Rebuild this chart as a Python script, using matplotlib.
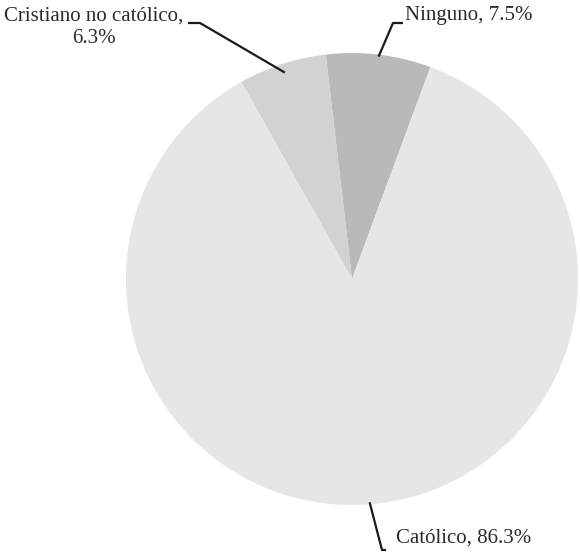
import numpy as np
import matplotlib.pyplot as plt

plt.rcParams["font.family"] = ["Liberation Serif", "DejaVu Serif"]

# religious affiliation shares (%)
labels = ["Ninguno", "Cristiano no católico", "Católico"]
shares = [7.5, 6.3, 86.3]
colors = ["#b9b9b9", "#d2d2d2", "#e6e6e6"]

W, H = 580, 554
fig = plt.figure(figsize=(W / 100, H / 100), dpi=100)
ax = fig.add_axes([0, 0, 1, 1])

cx, cy, r = 352, H - 279, 226
wedges, _ = ax.pie(
    shares,
    colors=colors,
    startangle=69.7,
    counterclock=True,
    center=(cx, cy),
    radius=r,
    frame=True,
)
ax.set_xlim(0, W)
ax.set_ylim(0, H)
ax.axis("off")


def edge_point(w, rad):
    a = np.deg2rad((w.theta1 + w.theta2) / 2)
    return cx + rad * np.cos(a), cy + rad * np.sin(a)


# leader lines: inset from rim, then elbow and end (top-down pixel coords)
leaders = [
    (2, [(393, 23), (403, 23)]),
    (9, [(200, 23), (188, 23)]),
    (2, [(382, 550), (386, 550)]),
]
for w, (inset, pts) in zip(wedges, leaders):
    x0, y0 = edge_point(w, r - inset)
    xs = [x0] + [p[0] for p in pts]
    ys = [y0] + [H - p[1] for p in pts]
    ax.plot(xs, ys, color="#1a1a1a", lw=1.6, solid_capstyle="butt")

fs = 15
tc = "#2a2a2a"
ax.text(405, H - 20, f"{labels[0]}, {shares[0]}%", fontsize=fs,
        ha="left", va="baseline", color=tc)
ax.text(94, H - 20.5, f"{labels[1]},", fontsize=fs,
        ha="center", va="baseline", color=tc)
ax.text(94, H - 43, f"{shares[1]}%", fontsize=fs,
        ha="center", va="baseline", color=tc)
ax.text(396, H - 543, f"{labels[2]}, {shares[2]}%", fontsize=fs,
        ha="left", va="baseline", color=tc)

fig.savefig("out.png", dpi=100)
